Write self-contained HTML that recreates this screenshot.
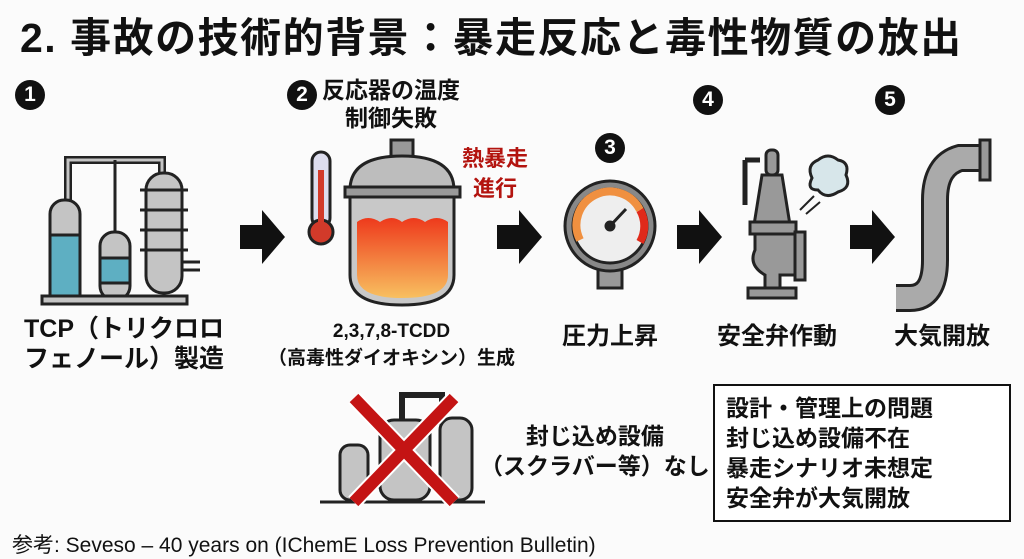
<!DOCTYPE html>
<html><head><meta charset="utf-8"><style>
body{margin:0;width:1024px;height:559px;background:#fbfbfb;position:relative;overflow:hidden;font-family:"Liberation Sans","Noto Sans CJK JP",sans-serif;color:#111}
.t{position:absolute;font-weight:bold;white-space:nowrap}
.c{position:absolute;width:30px;height:30px;border-radius:50%;background:#111;color:#fff;font-weight:bold;font-size:21px;text-align:center;line-height:30px}
svg{position:absolute;left:0;top:0}
</style></head><body>
<div class="t" style="left:20px;top:4px;font-size:41px;letter-spacing:1.5px">2. 事故の技術的背景：暴走反応と毒性物質の放出</div>
<div class="c" style="left:15px;top:80px">1</div>
<div class="c" style="left:287px;top:80px">2</div>
<div class="c" style="left:595px;top:133px">3</div>
<div class="c" style="left:693px;top:85px">4</div>
<div class="c" style="left:875px;top:85px">5</div>
<div class="t" style="left:322px;top:76px;font-size:23px;text-align:center;line-height:28px">反応器の温度<br>制御失敗</div>
<div class="t" style="left:462px;top:144px;font-size:22px;color:#b3140f;text-align:center;line-height:30px">熱暴走<br>進行</div>
<div class="t" style="left:24px;top:314px;font-size:25px;line-height:30px">TCP（トリクロロ<br>フェノール）製造</div>
<div class="t" style="left:268px;top:318px;font-size:19px;line-height:27px;text-align:center">2,3,7,8-TCDD<br>（高毒性ダイオキシン）生成</div>
<div class="t" style="left:562px;top:316px;font-size:24px">圧力上昇</div>
<div class="t" style="left:717px;top:316px;font-size:24px">安全弁作動</div>
<div class="t" style="left:894px;top:316px;font-size:24px">大気開放</div>
<div class="t" style="left:480px;top:421px;font-size:23px;line-height:30px;text-align:center">封じ込め設備<br>（スクラバー等）なし</div>
<div style="position:absolute;left:713px;top:384px;width:294px;height:134px;border:2px solid #111;background:#fff"></div>
<div class="t" style="left:726px;top:393px;font-size:23px;line-height:30px">設計・管理上の問題<br>封じ込め設備不在<br>暴走シナリオ未想定<br>安全弁が大気開放</div>
<div class="t" style="left:12px;top:529px;font-size:21px;font-weight:normal">参考: Seveso – 40 years on (IChemE Loss Prevention Bulletin)</div>
<svg width="1024" height="559" viewBox="0 0 1024 559">
<defs><linearGradient id="lq" x1="0" y1="0" x2="0" y2="1"><stop offset="0" stop-color="#ee3a1c"/><stop offset="1" stop-color="#f8c060"/></linearGradient></defs>
<g fill="#111">
<polygon points="240,225 262,225 262,210 285,237 262,264 262,249 240,249"/>
<polygon points="497,225 519,225 519,210 542,237 519,264 519,249 497,249"/>
<polygon points="677,225 699,225 699,210 722,237 699,264 699,249 677,249"/>
<polygon points="850,225 872,225 872,210 895,237 872,264 872,249 850,249"/>
</g>
<g stroke="#222" stroke-width="3" fill="#c4c4c4">
<path d="M68 205 V160 H162 V180" fill="none" stroke-width="8"/><path d="M68 205 V160 H162 V180" fill="none" stroke="#c4c4c4" stroke-width="3"/>
<path d="M115 160 V235" fill="none"/>
<rect x="50" y="200" width="30" height="100" rx="14"/>
<rect x="50" y="235" width="30" height="65" fill="#5eafc2"/>
<rect x="100" y="232" width="30" height="68" rx="14"/>
<rect x="100" y="258" width="30" height="25" fill="#5eafc2"/>
<rect x="146" y="173" width="36" height="120" rx="17"/>
<path d="M140 190 H188 M140 210 H188 M140 230 H188 M140 250 H188" fill="none"/>
<path d="M182 262 H200 M182 270 H200" fill="none"/>
<rect x="42" y="296" width="145" height="8"/>
</g>
<g stroke="#222" stroke-width="3">
<rect x="312" y="152" width="18" height="75" rx="9" fill="#dde"/>
<circle cx="321" cy="232" r="12" fill="#d23a2a"/>
<rect x="318" y="170" width="6" height="60" fill="#d23a2a" stroke="none"/>
<rect x="391" y="140" width="22" height="18" fill="#999"/>
<path d="M350 190 Q350 156 402 156 Q454 156 454 190 Z" fill="#bdbdbd"/>
<rect x="345" y="187" width="115" height="10" fill="#999"/>
<path d="M350 197 H454 V275 Q454 305 402 305 Q350 305 350 275 Z" fill="#c8c8c8"/>
<path d="M357 222 Q368 214 380 222 Q392 214 402 222 Q414 214 425 222 Q437 214 448 222 V275 Q448 298 402 298 Q357 298 357 275 Z" fill="url(#lq)" stroke="none"/>
</g>
<g stroke="#222" stroke-width="3">
<rect x="598" y="260" width="24" height="28" fill="#999"/>
<circle cx="610" cy="226" r="45" fill="#888"/>
<circle cx="610" cy="226" r="37" fill="#eee"/>
<path d="M580 240 A32 32 0 0 1 640 210" stroke="#f09040" stroke-width="8" fill="none"/>
<path d="M640 210 A32 32 0 0 1 640 242" stroke="#e02a1a" stroke-width="8" fill="none"/>
<line x1="610" y1="226" x2="626" y2="209"/><circle cx="610" cy="226" r="4" fill="#222"/>
</g>
<g stroke="#222" stroke-width="3" fill="#999">
<rect x="766" y="150" width="12" height="25" rx="5"/>
<path d="M745 160 V205 M745 160 H760" fill="none" stroke-width="5"/>
<path d="M762 175 H782 L790 225 H754 Z"/>
<rect x="750" y="222" width="46" height="12"/>
<path d="M755 234 H795 V275 H780 V290 H765 V275 Q748 265 755 250 Z"/>
<rect x="795" y="232" width="10" height="48"/>
<rect x="748" y="288" width="48" height="10"/>
<path d="M812 178 Q806 165 818 160 Q828 152 838 160 Q850 162 846 175 Q852 188 838 192 Q826 200 818 190 Q806 190 812 178 Z" fill="#d7e6ea"/>
<path d="M800 210 L814 196 M806 214 L820 202" fill="none" stroke-width="2"/>
</g>
<g>
<path d="M896 298 H910 Q935 298 935 260 V200 Q935 165 960 158 H985" fill="none" stroke="#222" stroke-width="28"/>
<path d="M896 298 H910 Q935 298 935 260 V200 Q935 165 960 158 H985" fill="none" stroke="#aaa" stroke-width="22"/>
<rect x="980" y="140" width="10" height="40" fill="#999" stroke="#222" stroke-width="3"/>
</g>
<g stroke="#222" stroke-width="3" fill="#c4c4c4">
<path d="M402 425 V395 H442 V425" fill="none" stroke-width="6"/>
<rect x="340" y="445" width="28" height="55" rx="10"/>
<rect x="380" y="420" width="50" height="80" rx="14"/>
<rect x="440" y="418" width="32" height="82" rx="12"/>
<line x1="320" y1="502" x2="485" y2="502"/>
</g>
<g stroke="#fff" stroke-width="16" stroke-linecap="butt"><line x1="354" y1="398" x2="454" y2="502"/><line x1="454" y1="398" x2="354" y2="502"/></g>
<g stroke="#c41414" stroke-width="12"><line x1="354" y1="398" x2="454" y2="502"/><line x1="454" y1="398" x2="354" y2="502"/></g>
</svg>
</body></html>
